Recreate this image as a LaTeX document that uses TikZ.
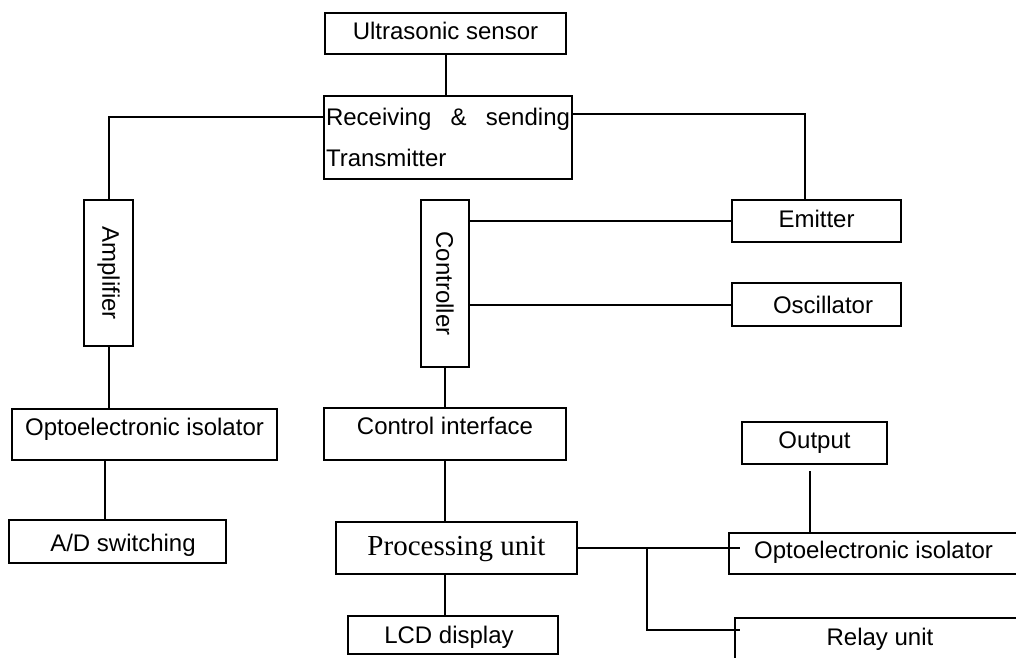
\documentclass[tikz,border=0pt]{standalone}
\usepackage{fontspec}
\setmainfont{Liberation Sans}
\newfontfamily\serifA{Liberation Serif}
\usepackage{graphicx}
\begin{document}
\begin{tikzpicture}[x=1pt,y=-1pt,
  bx/.style={draw, line width=2pt, inner sep=0pt, rectangle, font=\fontsize{24}{29}\selectfont},
  ln/.style={line width=2pt}]
\clip (0,0) rectangle (1016,657);
\fill[white] (0,0) rectangle (1016,657);
% boxes
\node[bx, minimum width=241pt, text height=26pt, text depth=15pt] (us) at (445.5,33.5) {Ultrasonic sensor};
\node[bx, minimum width=248pt, minimum height=83pt, text width=244pt, align=left, font=\fontsize{24}{41}\selectfont] (rt) at (448,137.5) {\makebox[244pt]{Receiving\hfill\&\hfill sending}\\Transmitter};
\node[bx, minimum width=49pt, minimum height=146pt] (amp) at (108.5,273) {\rotatebox{-90}{Amplifier}};
\node[bx, minimum width=48pt, minimum height=167pt] (ctrl) at (445,283.5) {\rotatebox{-90}{Controller}};
\node[bx, minimum width=169pt, text height=27pt, text depth=15pt] (em) at (816.5,221) {Emitter};
\node[bx, minimum width=169pt, text height=30pt, text depth=13pt] (osc) at (816.5,304.5) {\hspace*{13pt}Oscillator};
\node[bx, minimum width=265pt, text height=26pt, text depth=25pt] (c1) at (144.5,434.5) {Optoelectronic isolator};
\node[bx, minimum width=217pt, text height=31pt, text depth=12pt] (ad) at (117.5,541.5) {\hspace*{11pt}A/D switching};
\node[bx, minimum width=242pt, text height=26pt, text depth=26pt] (ci) at (445,434) {Control interface};
\node[bx, minimum width=241pt, text height=33pt, text depth=19pt, font=\serifA\fontsize{29}{35}\selectfont] (pu) at (456.5,548) {Processing unit};
\node[bx, minimum width=210pt, text height=27pt, text depth=11pt] (lcd) at (453,635) {LCD display\hspace*{8pt}};
\node[bx, minimum width=145pt, text height=26pt, text depth=16pt] (out) at (814.5,443) {Output};
\node[bx, minimum width=289pt, text height=25pt, text depth=16pt] (c2) at (873.5,553.5) {Optoelectronic isolator};
\node[bx, minimum width=290pt, text height=27pt, text depth=27pt] (relay) at (880,645) {Relay unit};
% connectors
\draw[ln] (us.south) -- (us.south |- rt.north);
\draw[ln] ([yshift=20.5pt]rt.west) -| (amp.north);
\draw[ln] ([yshift=23.5pt]rt.east) -| ([xshift=-11.5pt]em.north);
\draw[ln] (amp.south) -- (amp.south |- c1.north);
\draw[ln] ([xshift=-39.5pt]c1.south) -- ([xshift=-39.5pt]c1.south |- ad.north);
\draw[ln] (em.west) -- (em.west -| ctrl.east);
\draw[ln] (osc.west) -- (osc.west -| ctrl.east);
\draw[ln] (ctrl.south) -- (ctrl.south |- ci.north);
\draw[ln] (ci.south) -- (ci.south |- pu.north);
\draw[ln] ([xshift=-11.5pt]pu.south) -- ([xshift=-11.5pt]pu.south |- lcd.north);
\draw[ln] ([xshift=-4.5pt,yshift=-6pt]out.south) -- ([xshift=-4.5pt]out.south |- c2.north);
\draw[ln] (pu.east) -- ([xshift=12pt]c2.west |- pu.east);
\path (pu.east) ++(69,0) coordinate (j);
\draw[ln] (j) |- ([xshift=6pt,yshift=15pt]relay.west);
\end{tikzpicture}
\end{document}
